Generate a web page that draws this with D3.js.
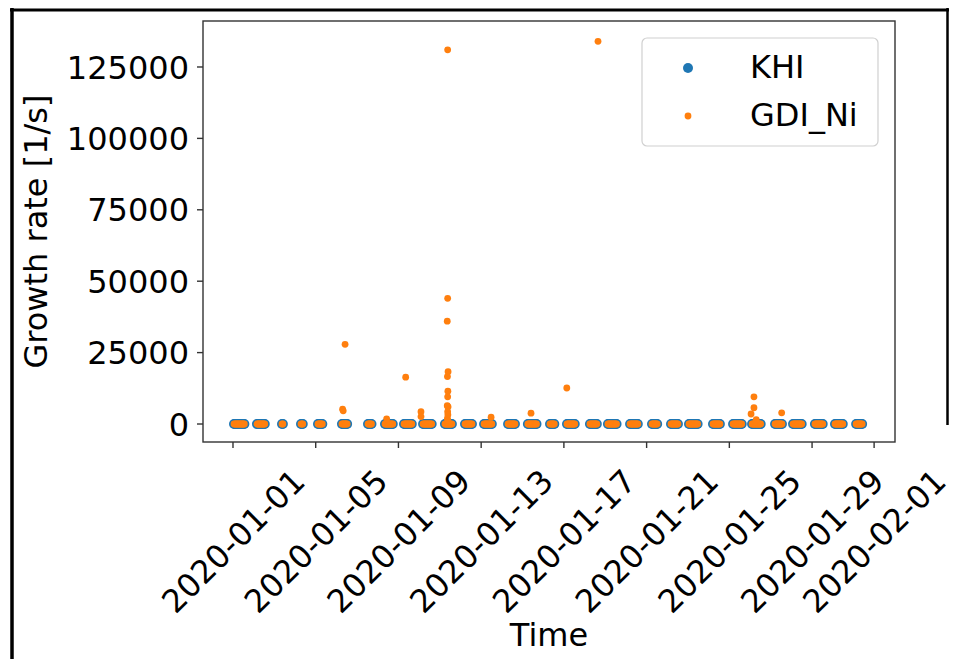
<!DOCTYPE html>
<html lang="en">
<head>
    <meta charset="UTF-8">
    <title>Growth rate scatter</title>
    <script src="https://d3js.org/d3.v7.min.js"></script>
    <style>
        body { margin: 0; background: #fff; }
        text { font-family: "DejaVu Sans", sans-serif; fill: #000; }
    </style>
</head>
<body>
    <script>
        // observation windows, in days after 2020-01-01 (hourly samples inside each)
        const segStart = [0.05, 1.16, 2.37, 3.29, 4.11, 5.27, 6.53, 7.35, 8.27, 9.19, 10.25, 11.22, 12.14, 13.30,
            14.26, 15.33, 16.15, 17.26, 18.13, 19.20, 20.26, 21.18, 22.05, 23.21, 24.18, 25.10, 26.21, 27.08, 28.14, 29.11, 30.13];
        const segEnd = [0.58, 1.55, 2.42, 3.38, 4.35, 5.56, 6.72, 7.74, 8.66, 9.62, 10.59, 11.56, 12.52, 13.64,
            14.70, 15.57, 16.54, 17.60, 18.57, 19.58, 20.55, 21.52, 22.49, 23.55, 24.61, 25.53, 26.55, 27.51, 28.53, 29.50, 30.46];

        // KHI growth rates are all close to zero at this scale
        const khiLevel = 0;
        const gdiLevel = 0;

        // GDI_Ni values that stand out from the baseline
        const gdiPeakDay = [5.42, 5.30, 5.33, 7.43, 8.35, 9.09, 9.09,
            10.38, 10.38, 10.36, 10.40, 10.37, 10.39, 10.38, 10.36, 10.40, 10.38, 10.39, 10.37, 10.38,
            12.48, 14.41, 16.14, 17.65, 25.19, 25.19, 25.05, 25.30, 26.53];
        const gdiPeakValue = [27900, 5200, 4600, 1800, 16400, 4300, 2600,
            131000, 44000, 36000, 18300, 16600, 11500, 9500, 6400, 6000, 4300, 3200, 2000, 1200,
            2400, 3800, 12600, 134000, 9500, 5700, 3500, 1500, 3900];

        const yTicks = [0, 25000, 50000, 75000, 100000, 125000];
        const xTickDays = [0, 4, 8, 12, 16, 20, 24, 28, 31];

        const width = 958, height = 659;
        const plot = { left: 203, right: 895, top: 21, bottom: 442 };
        const fontSize = 32;
        const t0 = Date.UTC(2020, 0, 1);
        const day = 864e5;
        const toDate = d => new Date(t0 + d * day);

        const baseTimes = [];
        segStart.forEach((s, i) => {
            for (let h = s * 24; h <= segEnd[i] * 24 + 1e-6; h += 1) baseTimes.push(h / 24);
        });
        const khi = baseTimes.map(d => ({ t: toDate(d), v: khiLevel }));
        const gdi = baseTimes.map(d => ({ t: toDate(d), v: gdiLevel }))
            .concat(gdiPeakDay.map((d, i) => ({ t: toDate(d), v: gdiPeakValue[i] })));

        const svg = d3.select("body").append("svg")
            .attr("width", width)
            .attr("height", height);

        const x = d3.scaleUtc()
            .domain([toDate(-1.45), toDate(32.01)])
            .range([plot.left, plot.right]);
        const y = d3.scaleLinear()
            .domain([-6300, 141100])
            .range([plot.bottom, plot.top]);

        // outer frame of the screenshot
        svg.append("line").attr("x1", 12).attr("x2", 12).attr("y1", 8).attr("y2", height)
            .attr("stroke", "#000").attr("stroke-width", 3.5);
        svg.append("line").attr("x1", 10).attr("x2", 949).attr("y1", 10).attr("y2", 10)
            .attr("stroke", "#000").attr("stroke-width", 3);
        svg.append("line").attr("x1", 947.5).attr("x2", 947.5).attr("y1", 8).attr("y2", 425)
            .attr("stroke", "#000").attr("stroke-width", 2.5);

        // points
        svg.append("g").selectAll("circle").data(khi).enter().append("circle")
            .attr("cx", d => x(d.t)).attr("cy", d => y(d.v)).attr("r", 5)
            .attr("fill", "#1f77b4");
        svg.append("g").selectAll("circle").data(gdi).enter().append("circle")
            .attr("cx", d => x(d.t)).attr("cy", d => y(d.v)).attr("r", 3.4)
            .attr("fill", "#ff7f0e");

        // axes box
        svg.append("rect")
            .attr("x", plot.left).attr("y", plot.top)
            .attr("width", plot.right - plot.left).attr("height", plot.bottom - plot.top)
            .attr("fill", "none").attr("stroke", "#333").attr("stroke-width", 1.4);

        // y axis
        const yAxis = svg.append("g");
        yTicks.forEach(v => {
            yAxis.append("line").attr("x1", plot.left - 6).attr("x2", plot.left)
                .attr("y1", y(v)).attr("y2", y(v)).attr("stroke", "#333").attr("stroke-width", 1.4);
            yAxis.append("text").attr("x", plot.left - 14).attr("y", y(v)).attr("dy", "0.36em")
                .attr("text-anchor", "end").attr("font-size", fontSize).text(v);
        });
        svg.append("text")
            .attr("transform", `translate(47, ${(plot.top + plot.bottom) / 2}) rotate(-90)`)
            .attr("text-anchor", "middle").attr("font-size", fontSize)
            .text("Growth rate [1/s]");

        // x axis
        const fmt = d3.utcFormat("%Y-%m-%d");
        const xAxis = svg.append("g");
        xTickDays.forEach(d => {
            const px = x(toDate(d));
            xAxis.append("line").attr("x1", px).attr("x2", px)
                .attr("y1", plot.bottom).attr("y2", plot.bottom + 6).attr("stroke", "#333").attr("stroke-width", 1.4);
            xAxis.append("text")
                .attr("transform", `translate(${px}, 541) rotate(-45)`)
                .attr("text-anchor", "middle").attr("dy", "0.36em").attr("font-size", fontSize)
                .text(fmt(toDate(d)));
        });
        svg.append("text")
            .attr("x", (plot.left + plot.right) / 2).attr("y", 646)
            .attr("text-anchor", "middle").attr("font-size", fontSize)
            .text("Time");

        // legend
        const lg = svg.append("g");
        lg.append("rect").attr("x", 642).attr("y", 38).attr("width", 236).attr("height", 108)
            .attr("rx", 5).attr("fill", "#fff").attr("fill-opacity", 0.8)
            .attr("stroke", "#d0d0d0").attr("stroke-width", 1.2);
        lg.append("circle").attr("cx", 688).attr("cy", 68).attr("r", 5).attr("fill", "#1f77b4");
        lg.append("circle").attr("cx", 688).attr("cy", 116).attr("r", 3.4).attr("fill", "#ff7f0e");
        lg.append("text").attr("x", 750).attr("y", 78).attr("font-size", fontSize).text("KHI");
        lg.append("text").attr("x", 750).attr("y", 126).attr("font-size", fontSize).text("GDI_Ni");
    </script>
</body>
</html>
